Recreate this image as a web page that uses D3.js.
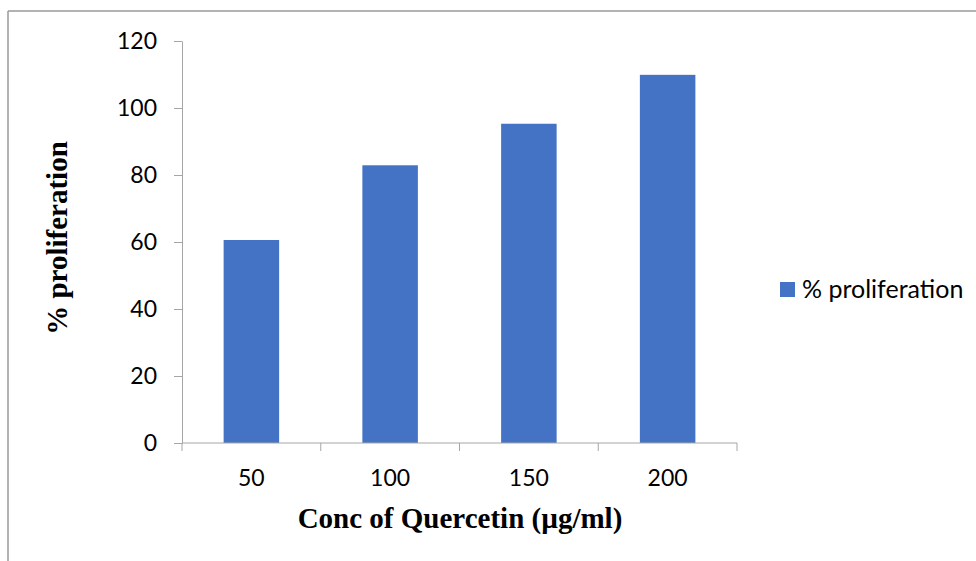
<!DOCTYPE html>
<html>
<head>
<meta charset="utf-8">
<script src="https://cdn.jsdelivr.net/npm/d3@7"></script>
<style>
  html, body { margin: 0; padding: 0; background: #fff; }
  svg { display: block; }
</style>
</head>
<body>
<svg id="chart" width="976" height="561"></svg>
<script>
// Proliferation (%) at each quercetin concentration
const concentrations = ["50", "100", "150", "200"];
const proliferation = [60.6, 82.9, 95.3, 109.9];
const yTicks = [0, 20, 40, 60, 80, 100, 120];
const seriesName = "% proliferation";

const svg = d3.select("#chart");
const barColor = "#4472C4";
const axisColor = "#A6A6A6";
const tickFont = "Lato, 'Open Sans', sans-serif";
const titleFont = "'Liberation Serif', 'Times New Roman', serif";

// chart frame (top and left edges only)
svg.append("line").attr("x1", 8).attr("y1", 11).attr("x2", 976).attr("y2", 11)
  .attr("stroke", "#9a9a9a").attr("stroke-width", 1.5);
svg.append("line").attr("x1", 8).attr("y1", 11).attr("x2", 8).attr("y2", 561)
  .attr("stroke", "#9a9a9a").attr("stroke-width", 1.5);

const plot = { left: 182, right: 737, top: 41, bottom: 443 };

const x = d3.scaleBand()
  .domain(concentrations)
  .range([plot.left, plot.right])
  .paddingInner(0.6)
  .paddingOuter(0.3);

const y = d3.scaleLinear()
  .domain([0, 120])
  .range([plot.bottom, plot.top]);

// bars
svg.append("g").selectAll("rect")
  .data(concentrations.map((c, i) => ({ c, v: proliferation[i] })))
  .join("rect")
  .attr("x", d => x(d.c))
  .attr("y", d => y(d.v))
  .attr("width", x.bandwidth())
  .attr("height", d => y(0) - y(d.v))
  .attr("fill", barColor);

// y axis
const yAxis = svg.append("g")
  .attr("transform", `translate(${plot.left},0)`)
  .call(d3.axisLeft(y).tickValues(yTicks).tickSize(8).tickPadding(17).tickSizeOuter(0));
yAxis.select(".domain").attr("stroke", axisColor);
yAxis.selectAll(".tick line").attr("stroke", axisColor);
yAxis.selectAll(".tick text")
  .attr("font-family", tickFont).attr("font-size", 23).attr("fill", "#000");

// x axis: ticks on category boundaries
const xAxis = svg.append("g").attr("transform", `translate(0,${plot.bottom})`);
xAxis.append("line")
  .attr("x1", plot.left).attr("x2", plot.right)
  .attr("stroke", axisColor);
const boundaries = concentrations.map(c => x(c) - x.step() * x.paddingOuter())
  .concat([plot.right]);
xAxis.selectAll("line.tk").data(boundaries).join("line")
  .attr("class", "tk")
  .attr("x1", d => d).attr("x2", d => d)
  .attr("y1", 0).attr("y2", 8)
  .attr("stroke", axisColor);
xAxis.selectAll("text").data(concentrations).join("text")
  .attr("x", d => x(d) + x.bandwidth() / 2)
  .attr("y", 43)
  .attr("text-anchor", "middle")
  .attr("font-family", tickFont).attr("font-size", 23).attr("fill", "#000")
  .text(d => d);

// axis titles
svg.append("text")
  .attr("x", 460).attr("y", 528)
  .attr("text-anchor", "middle")
  .attr("font-family", titleFont).attr("font-weight", "bold").attr("font-size", 29)
  .attr("fill", "#000")
  .text("Conc of Quercetin (µg/ml)");

svg.append("text")
  .attr("transform", "translate(67,238) rotate(-90)")
  .attr("text-anchor", "middle")
  .attr("font-family", titleFont).attr("font-weight", "bold").attr("font-size", 29)
  .attr("fill", "#000")
  .text("% proliferation");

// legend
const legend = svg.append("g").attr("transform", "translate(780,282)");
legend.append("rect").attr("width", 15).attr("height", 15).attr("fill", barColor);
legend.append("text")
  .attr("x", 22).attr("y", 16)
  .attr("font-family", tickFont).attr("font-size", 25).attr("fill", "#000")
  .text(seriesName);
</script>
</body>
</html>
